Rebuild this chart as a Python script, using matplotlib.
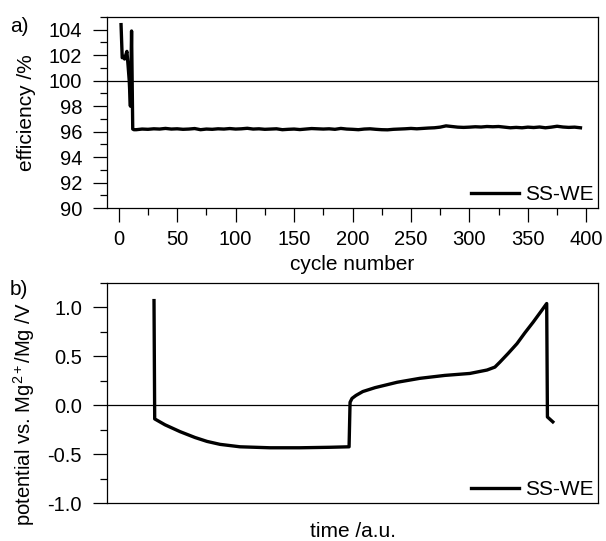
import matplotlib
matplotlib.use("Agg")
import matplotlib.pyplot as plt
from matplotlib.ticker import MultipleLocator, FormatStrFormatter

plt.rcParams['font.family'] = ['Liberation Sans', 'DejaVu Sans']
plt.rcParams['mathtext.fontset'] = 'custom'
plt.rcParams['mathtext.rm'] = 'Liberation Sans'
plt.rcParams['mathtext.it'] = 'Liberation Sans:italic'
plt.rcParams['font.size'] = 15

# a) coulombic efficiency vs cycle number
cycle = [2, 3, 4, 5, 6, 7, 8, 9, 10, 11, 12, 13,
         15, 20, 25, 30, 35, 40, 45, 50, 55, 60, 65, 70, 75, 80, 85, 90, 95,
         100, 105, 110, 115, 120, 125, 130, 135, 140, 145, 150, 155, 160, 165,
         170, 175, 180, 185, 190, 195, 200, 205, 210, 215, 220, 225, 230, 235,
         240, 245, 250, 255, 260, 265, 270, 275, 280, 285, 290, 295, 300, 305,
         310, 315, 320, 325, 330, 335, 340, 345, 350, 355, 360, 365, 370, 375,
         380, 385, 390, 395]
efficiency = [104.4, 101.8, 101.9, 101.7, 102.0, 102.3, 101.2, 100.0, 98.0, 103.9, 96.2, 96.15,
              96.15, 96.2, 96.18, 96.22, 96.2, 96.25, 96.2, 96.22, 96.18, 96.2, 96.24, 96.15, 96.2,
              96.18, 96.22, 96.2, 96.24, 96.2, 96.22, 96.26, 96.2, 96.22, 96.18, 96.2, 96.22, 96.15,
              96.18, 96.2, 96.16, 96.2, 96.24, 96.22, 96.2, 96.22, 96.18, 96.25, 96.2, 96.18, 96.15,
              96.2, 96.22, 96.18, 96.15, 96.14, 96.18, 96.2, 96.22, 96.25, 96.22, 96.25, 96.28, 96.3,
              96.35, 96.45, 96.4, 96.35, 96.33, 96.35, 96.38, 96.36, 96.4, 96.38, 96.4, 96.35, 96.3,
              96.33, 96.3, 96.35, 96.32, 96.36, 96.3, 96.35, 96.42, 96.36, 96.33, 96.35, 96.3]

# b) potential profile of one cycle
time_au = [9.57, 9.71, 11.81, 14.87, 17.92, 20.37, 23.01, 27.09, 33.2, 39.3, 45.4, 49.3,
           49.5, 49.9, 50.7, 52.1, 54.6, 59.1, 63.7, 68.8, 73.9, 77.4, 79.0, 80.0, 81.7,
           83.5, 85.1, 86.8, 88.4, 89.55, 89.7, 90.8]
potential = [1.07, -0.14, -0.20, -0.27, -0.33, -0.37, -0.40, -0.425, -0.435, -0.435, -0.43, -0.425,
             0.03, 0.07, 0.10, 0.14, 0.18, 0.235, 0.275, 0.305, 0.325, 0.36, 0.39, 0.44, 0.53,
             0.63, 0.74, 0.85, 0.96, 1.04, -0.12, -0.17]

fig = plt.figure(figsize=(6.06, 5.41), dpi=100)
ax1 = fig.add_axes([0.1766, 0.6155, 0.8102, 0.3531])
ax2 = fig.add_axes([0.1766, 0.0702, 0.8102, 0.4067])

for ax in (ax1, ax2):
    for s in ax.spines.values():
        s.set_linewidth(0.9)
    ax.tick_params(which='major', direction='out', length=10, width=0.9, pad=8, labelsize=14.5)
    ax.tick_params(which='minor', direction='out', length=5, width=0.9)

ax1.plot(cycle, efficiency, color='black', lw=2.4, label='SS-WE')
ax1.axhline(100, color='black', lw=0.9)
ax1.set_xlim(-10, 410)
ax1.set_ylim(90, 105)
ax1.xaxis.set_major_locator(MultipleLocator(50))
ax1.xaxis.set_minor_locator(MultipleLocator(25))
ax1.yaxis.set_major_locator(MultipleLocator(2))
ax1.yaxis.set_minor_locator(MultipleLocator(1))
ax1.tick_params(axis='x', which='major', pad=6)
ax1.set_xlabel('cycle number', labelpad=4)
ax1.set_ylabel('efficiency /%')
ax1.yaxis.set_label_coords(-0.145, 0.5)
ax1.legend(loc='lower right', frameon=False, handlelength=2.3, handletextpad=0.3,
           borderaxespad=0.05, borderpad=0.15)

ax2.plot(time_au, potential, color='black', lw=2.4, label='SS-WE')
ax2.axhline(0, color='black', lw=0.9)
ax2.set_xlim(0, 100)
ax2.set_ylim(-1.0, 1.25)
ax2.set_xticks([])
ax2.yaxis.set_major_locator(MultipleLocator(0.5))
ax2.yaxis.set_minor_locator(MultipleLocator(0.25))
ax2.yaxis.set_major_formatter(FormatStrFormatter('%.1f'))
ax2.set_xlabel('time /a.u.', labelpad=14)
ax2.set_ylabel(r'potential vs. Mg$^{2+}$/Mg /V', fontsize=14.6)
ax2.yaxis.set_label_coords(-0.142, 0.405)
ax2.legend(loc='lower right', frameon=False, handlelength=2.3, handletextpad=0.3,
           borderaxespad=0.05, borderpad=0.15)

fig.text(0.016, 0.94, 'a)', fontsize=15)
fig.text(0.016, 0.454, 'b)', fontsize=15)

fig.savefig('out.png', dpi=100)
